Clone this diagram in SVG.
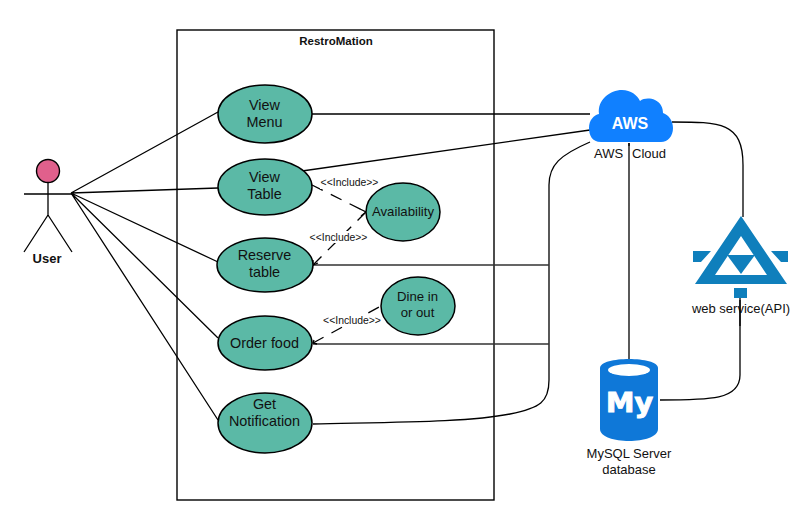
<svg xmlns="http://www.w3.org/2000/svg" width="806" height="527" viewBox="0 0 806 527">
<style>
text{font-family:"Liberation Sans",Arial,sans-serif;font-size:14.4px;fill:#111;text-anchor:middle}
.uc{fill:#5bb9a6;stroke:#000;stroke-width:1.5}
.l{fill:none;stroke:#000;stroke-width:1.3}
.s{fill:none;stroke:#333;stroke-width:1.6}
.d{fill:none;stroke:#000;stroke-width:1.3;stroke-dasharray:12 9}
.inc{font-size:10.4px}
.sm{font-size:13.2px}
.blue{fill:#0f7fbc}
</style>
<rect width="806" height="527" fill="#fff"/>
<g id="system"><rect x="177" y="30" width="317" height="470" fill="#fff" stroke="#000" stroke-width="1.4"/>
<text x="336" y="44.500" style="font-size:11.500px;font-weight:bold">RestroMation</text></g>
<g id="connectors">
<path class="l" d="M71 193L218 112M71 193L218 188M71 193L218 262M71 193L218 338M71 193L218 420"/>
<path class="l" d="M312 114H590M302 171L590 130"/>
<path class="l" d="M313 424C400 422 470 422 510 414C540 408 549 402 549 380V185C549 165 560 155 590 142"/>
<path class="s" d="M313 265H549M313 344H549"/>
<path class="l" d="M629 143V360"/>
<path class="l" d="M672 122C720 122 743 122 743 165V217"/>
<path class="l" d="M660 400C710 400 740 400 740 375V300"/>
<path class="d" d="M312 185L366 212"/>
<path class="d" d="M313 265L366 212"/>
<path class="d" d="M313 343L381 306"/>
<path class="l" d="M360 209L366 212L361 216M313 260V265L318 263M314 340L313 343L317 344"/>
<rect x="320" y="177" width="59" height="12" fill="#fff"/><text class="inc" x="349.500" y="186">&lt;&lt;Include&gt;&gt;</text>
<rect x="309" y="231" width="59" height="12" fill="#fff"/><text class="inc" x="338.500" y="240.500">&lt;&lt;Include&gt;&gt;</text>
<rect x="323" y="314" width="59" height="12" fill="#fff"/><text class="inc" x="352" y="323.500">&lt;&lt;Include&gt;&gt;</text>
</g>
<g id="user"><circle cx="48" cy="171" r="11.500" fill="#e0608c" stroke="#000" stroke-width="1.4"/>
<path class="l" d="M48 183V215M24 194H72M48 215L24 252M48 215L72 252"/>
<text x="47" y="262.500" style="font-size:13px;font-weight:bold">User</text></g>
<g id="view-menu"><ellipse class="uc" cx="265" cy="114" rx="47" ry="29"/><text x="264.500" y="110">View</text><text x="264.500" y="127">Menu</text></g>
<g id="view-table"><ellipse class="uc" cx="265" cy="187" rx="47" ry="28"/><text x="264.500" y="182">View</text><text x="264.500" y="199">Table</text></g>
<g id="reserve-table"><ellipse class="uc" cx="265" cy="265" rx="48" ry="27"/><text x="264.500" y="260">Reserve</text><text x="264.500" y="277">table</text></g>
<g id="order-food"><ellipse class="uc" cx="265" cy="343" rx="47" ry="27"/><text x="264.500" y="348">Order food</text></g>
<g id="get-notification"><ellipse class="uc" cx="265" cy="423" rx="47" ry="30"/><text x="264.500" y="409">Get</text><text x="264.500" y="426">Notification</text></g>
<g id="availability"><ellipse class="uc" cx="403" cy="212" rx="37" ry="29"/><text class="sm" x="403" y="216">Availability</text></g>
<g id="dine"><ellipse class="uc" cx="418" cy="306" rx="37" ry="29"/><text class="sm" x="417.500" y="301">Dine in</text><text class="sm" x="417.500" y="317">or out</text></g>
<g id="aws"><path d="M601 142C592 142 589 135 589 128C589 120 594 115 599 114C597 100 610 90 622 90C631 90 637 95 640 101C644 98 650 98 655 100C661 103 663 108 663 113C669 115 673 121 673 128C673 136 668 142 661 142Z" fill="#1080ff"/>
<text x="630" y="129" style="font-size:16px;font-weight:bold;fill:#fff">AWS</text>
<rect x="594" y="146" width="71" height="15" fill="#fff"/>
<text x="594" y="158" style="text-anchor:start;font-size:13px">AWS</text><text x="632" y="158" style="text-anchor:start;font-size:13px">Cloud</text>
<path class="l" d="M629 143V161"/></g>
<g id="web-service">
<path class="blue" fill-rule="evenodd" d="M741 216L787 284H695ZM741 236L715 275H767Z"/>
<path class="blue" d="M727 255H755L741 274Z"/>
<path class="blue" d="M693 251H711L701 262H693ZM771 251H788V262H781Z"/>
<rect class="blue" x="734" y="288" width="13" height="10"/>
<text x="741" y="313" style="font-size:13px">web service(API)</text>
<path class="l" d="M740 298V326"/></g>
<g id="mysql"><path d="M600 368C600 356 658 356 658 368V429C658 445 600 445 600 429Z" fill="#0f78d8"/>
<ellipse cx="629" cy="370" rx="21" ry="6" fill="#fff"/>
<text x="629.500" y="412" style="font-size:27px;font-weight:bold;fill:#fff;stroke:#fff;stroke-width:1;font-family:'DejaVu Sans',sans-serif" textLength="47" lengthAdjust="spacingAndGlyphs">My</text>
<text x="629" y="458" style="font-size:13px">MySQL Server</text><text x="629" y="474" style="font-size:13px">database</text></g>
</svg>
